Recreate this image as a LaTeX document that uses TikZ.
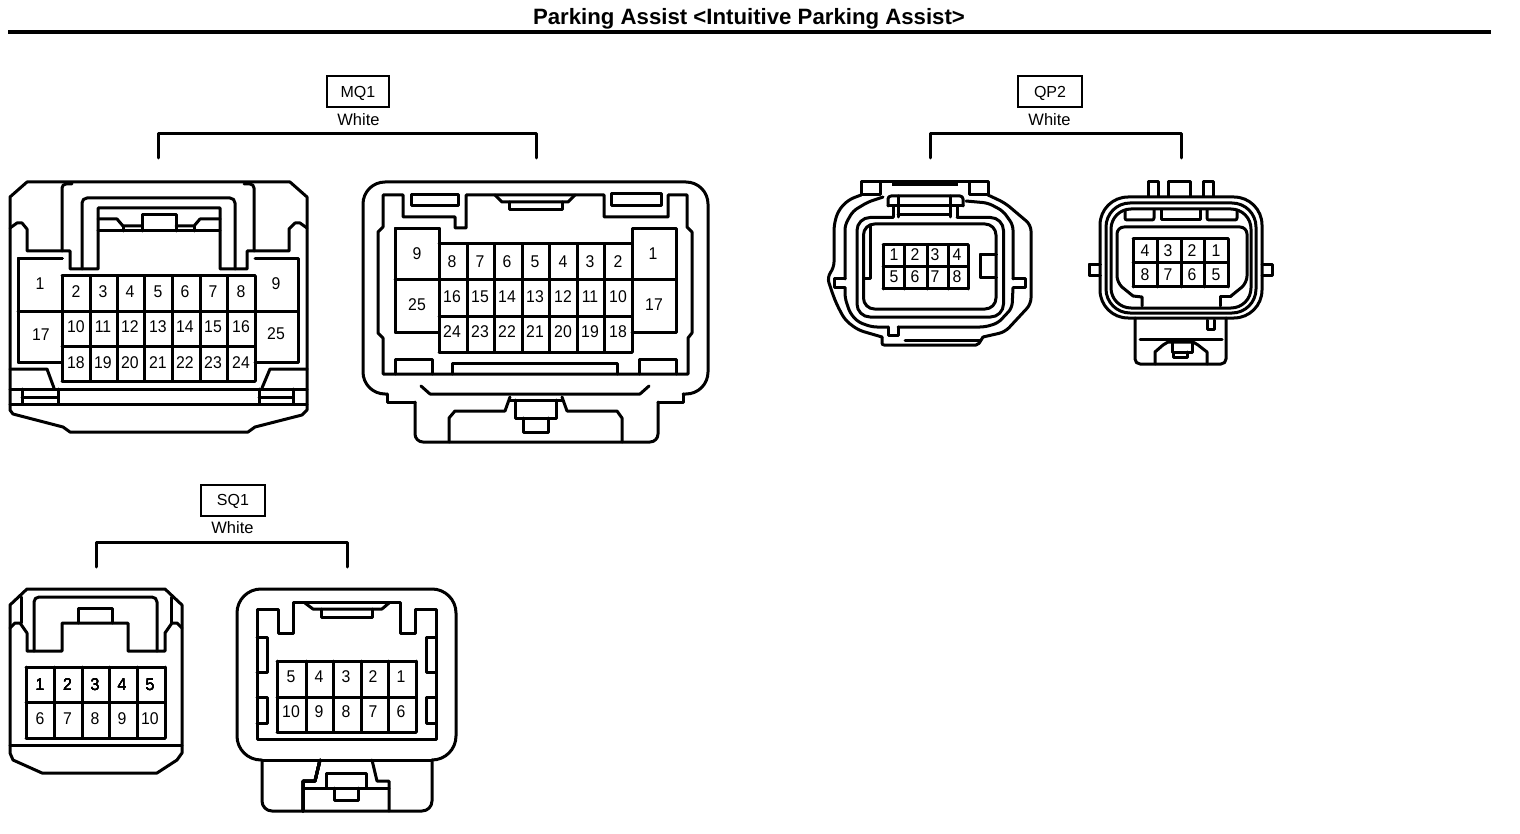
\documentclass[tikz,border=0pt]{standalone}
\usepackage{fontspec}
\setmainfont{Liberation Sans}
\newfontfamily\pinf[FakeStretch=0.93]{Liberation Sans}
\tikzset{
  ln/.style={line width=3pt,line join=round,line cap=round},
  pin/.style={inner sep=0pt,font=\pinf\fontsize{17}{18}\selectfont,anchor=center},
  tagbox/.style={draw,line width=2pt,inner sep=0pt,text height=11pt,text depth=0pt,font=\fontsize{16}{17}\selectfont},
  col/.style={inner sep=0pt,font=\fontsize{16.5}{17}\selectfont},
}
\newcommand{\hl}[3]{\draw[ln] (#2,#1)--(#3,#1);}
\newcommand{\vl}[3]{\draw[ln] (#1,#2)--(#1,#3);}
\begin{document}
\begin{tikzpicture}[x=1pt,y=-1pt]
\useasboundingbox (0,0) rectangle (1520,834);
% title
\node[inner sep=0pt,font=\bfseries\fontsize{22.2}{24}\selectfont] (title) at (749,18.5) {Parking Assist <Intuitive Parking Assist>};
\draw[line width=3.5pt] (8,32)--(1491,32);
% tags
\node[tagbox,minimum width=62pt,minimum height=31pt] (mq) at (358,92) {MQ1};
\node[col] (mqw) at (358.5,119.5) {White};
\draw[ln] (158,158)--(158,134)--(536,134)--(536,158);
\node[tagbox,minimum width=64pt,minimum height=31pt] (qp) at (1050,92) {QP2};
\node[col] (qpw) at (1049.5,119.5) {White};
\draw[ln] (930,158)--(930,134)--(1181,134)--(1181,158);
\node[tagbox,minimum width=64pt,minimum height=31pt] (sq) at (233,500) {SQ1};
\node[col] (sqw) at (232.5,527.5) {White};
\draw[ln] (96,567)--(96,542)--(347,542)--(347,567);

% ===== MQ1 left
\draw[ln] (10,197)--(27,182)--(290,182)--(307,197)--(307,410)--(302,415)--(255,427)--(248,432)--(70,432)--(63,427)--(13,414)--(10,410)--cycle;
\draw[ln] (10,228)--(17,223)--(22,223)--(27,229)--(27,251)--(70,251)--(70,269)--(98,269)--(98,208)--(220,208)--(220,269)--(247,269)--(247,251)--(289,251)--(289,229)--(295,223)--(300,223)--(307,228);
\draw[ln,rounded corners=4pt] (62,251)--(62,184)--(72,184);
\draw[ln,rounded corners=4pt] (254,251)--(254,184)--(244,184);
\draw[ln,rounded corners=5pt] (82,269)--(82,198)--(235,198)--(235,269);
\draw[ln] (98,219)--(117,219)--(123,226)--(142,226);
\draw[ln] (98,231)--(220,231);
\draw[ln] (123,226)--(123,231) (194,226)--(194,231);
\draw[ln] (142,231)--(142,215)--(176,215)--(176,231);
\draw[ln] (176,226)--(194,226)--(200,219)--(220,219);
\draw[ln] (62,276)--(255,276) (18,311)--(298,311) (62,346)--(255,346) (62,381)--(255,381);
\foreach \x in {62,90,117,144,172,200,227,255} \vl{\x}{276}{381}
\draw[ln] (62,259)--(18,259)--(18,362)--(62,362);
\draw[ln] (255,259)--(298,259)--(298,362)--(255,362);
\draw[ln] (10,369)--(47,369)--(54,388);
\draw[ln] (307,369)--(270,369)--(262,388);
\hl{389}{10}{307} \hl{404}{10}{307}
\vl{22}{389}{404} \vl{58}{389}{404} \vl{259}{389}{404} \vl{293}{389}{404}
\hl{397}{22}{58} \hl{397}{259}{293}
\foreach \x/\t in {76/2,103/3,130/4,158/5,185/6,213/7,241/8} \node[pin] (a\t) at (\x,292) {\t};
\foreach \x/\t in {76/10,103/11,130/12,158/13,185/14,213/15,241/16} \node[pin] (a\t) at (\x,327) {\t};
\foreach \x/\t in {76/18,103/19,130/20,158/21,185/22,213/23,241/24} \node[pin] (a\t) at (\x,363) {\t};
\node[pin] (a1) at (40,284) {1}; \node[pin] (a17) at (41,335) {17};
\node[pin] (a9) at (276,284) {9}; \node[pin] (a25) at (276,334) {25};

% ===== MQ1 right
\draw[ln,rounded corners=22pt] (387,394)--(363,394)--(363,182)--(708,182)--(708,394)--(683,394);
\draw[ln] (387,394)--(387,402)--(415,402);
\draw[ln] (683,394)--(683,402)--(658,402);
\draw[ln,rounded corners=8pt] (415,402)--(415,442)--(658,442)--(658,402);
\draw[ln] (466,195)--(466,228)--(455,228)--(455,217)--(403,217)--(403,195)--(383,195)--(383,227)--(378,232)--(378,333)--(383,338)--(383,374)--(688,374)--(688,338)--(692,333)--(692,232)--(687,227)--(687,195)--(668,195)--(668,217)--(604,217)--(604,195)--(466,195);
\draw[ln] (411,195) rectangle (458,206);
\draw[ln] (611,194) rectangle (661,206);
\draw[ln] (495,195)--(502,202)--(568,202)--(575,195);
\draw[ln] (509,202)--(509,210)--(562,210)--(562,202);
\hl{244}{439}{632} \hl{280}{395}{676} \hl{316}{439}{632} \hl{352}{439}{632}
\foreach \x in {439,467,494,522,549,577,604,632} \vl{\x}{244}{352}
\draw[ln] (439,244)--(439,229)--(395,229)--(395,332)--(439,332);
\draw[ln] (632,244)--(632,229)--(676,229)--(676,332)--(632,332);
\draw[ln] (395,374)--(395,359)--(432,359)--(432,374);
\draw[ln] (452,374)--(452,363)--(617,363)--(617,374);
\draw[ln] (639,374)--(639,359)--(676,359)--(676,374);
\draw[ln] (421,386)--(430,394)--(640,394)--(649,386);
\draw[ln] (510,397)--(505,411)--(455,411)--(449,418)--(449,442);
\draw[ln] (562,397)--(567,411)--(617,411)--(622,418)--(622,442);
\draw[ln] (510,400)--(562,400);
\draw[ln] (515,400)--(515,418)--(556,418)--(556,400);
\draw[ln] (523,418)--(523,432)--(548,432)--(548,418);
\foreach \x/\t in {452/8,480/7,507/6,535/5,563/4,590/3,618/2} \node[pin] (b\t) at (\x,262) {\t};
\foreach \x/\t in {452/16,480/15,507/14,535/13,563/12,590/11,618/10} \node[pin] (b\t) at (\x,297) {\t};
\foreach \x/\t in {452/24,480/23,507/22,535/21,563/20,590/19,618/18} \node[pin] (b\t) at (\x,332) {\t};
\node[pin] (b9) at (417,254) {9}; \node[pin] (b25) at (417,305) {25};
\node[pin] (b1) at (653,254) {1}; \node[pin] (b17) at (654,305) {17};

% ===== QP2 left
\draw[ln] (861,195)--(861,182)--(988,182)--(988,195);
\draw[line width=4.5pt] (892,184)--(958,184);
\draw[ln] (880,183)--(880,195)--(861,195) (969,183)--(969,195)--(988,195);
% outer wall
\draw[ln,rounded corners=6pt] (861,195)--(848,200)--(838,211)--(834,225)--(834,268)--(827,277)--(833,295)--(837,305)--(845,320)--(858,330)--(882,337);
\draw[ln,rounded corners=2pt] (882,337)--(882,345)--(978,345)--(983,337);
\draw[ln,rounded corners=6pt] (983,337)--(1005,332)--(1031,304)--(1031,225)--(1005,203)--(988,195);
% second wall with side lugs
\draw[ln,rounded corners=5pt] (883,197)--(868,202)--(853,211)--(845,225)--(845,279);
\draw[ln] (845,279)--(834,279)--(834,288)--(845,288);
\draw[ln,rounded corners=5pt] (845,288)--(845,298)--(850,313)--(858,322)--(872,327)--(888,327);
\draw[ln] (888,327)--(888,335)--(898,335)--(898,327);
\draw[ln,rounded corners=5pt] (898,327)--(985,327)--(998,323)--(1012,308)--(1013,288);
\draw[ln] (1013,288)--(1025,288)--(1025,279)--(1013,279);
\draw[ln,rounded corners=5pt] (1013,279)--(1013,225)--(1003,211)--(988,203)--(966,201);
\draw[ln] (905,340)--(980,340);
% inner rings
\draw[ln,rounded corners=13pt] (893,217.5)--(857,217.5)--(857,317)--(1003.5,317)--(1003.5,217.5)--(957,217.5);
\draw[ln,rounded corners=11pt] (863.5,224)--(863.5,309)--(996,309)--(996,224)--cycle;
\draw[ln] (870,226)--(870,279)--(864,279);
% top latch
\draw[ln,rounded corners=3pt] (888,206)--(888,196)--(963,196)--(963,206);
\hl{206}{888}{963} \hl{215}{898}{950}
\draw[ln] (893,206)--(893,217) (898,196)--(898,217) (950,196)--(950,217) (957,206)--(957,217);
\hl{245}{883}{968} \hl{267}{883}{968} \hl{289}{883}{968}
\foreach \x in {883,904,927,948,968} \vl{\x}{245}{289}
\draw[ln] (996,255)--(980,255)--(980,278)--(996,278);
\foreach \x/\t in {894/1,915/2,935/3,957/4} \node[pin] (c\t) at (\x,255) {\t};
\foreach \x/\t in {894/5,915/6,935/7,957/8} \node[pin] (c\t) at (\x,277) {\t};

% ===== QP2 right
\draw[ln] (1148,196)--(1148,182)--(1158,182)--(1158,196);
\draw[ln] (1168,196)--(1168,182)--(1190,182)--(1190,196);
\draw[ln] (1203,196)--(1203,182)--(1213,182)--(1213,196);
\draw[ln,rounded corners=28pt] (1100,197)--(1262,197)--(1262,318)--(1100,318)--cycle;
\draw[ln,rounded corners=24pt] (1106,203)--(1256,203)--(1256,313)--(1106,313)--cycle;
\draw[ln,rounded corners=20pt] (1111,209)--(1251,209)--(1251,308)--(1111,308)--cycle;
\draw[ln,rounded corners=2pt] (1125,210)--(1125,220)--(1154,220)--(1154,210);
\draw[ln] (1161,210)--(1161,220)--(1200,220)--(1200,210);
\draw[ln,rounded corners=2pt] (1207,210)--(1207,220)--(1237,220)--(1237,210);
\draw[ln] (1133,296)--(1142,297)--(1142,306);
\draw[ln] (1231,296)--(1220,296)--(1220,306);
\draw[ln,rounded corners=7pt] (1133,296)--(1117,283)--(1117,227)--(1247,227)--(1247,283)--(1231,296);
\hl{239}{1133}{1228} \hl{263}{1133}{1228} \hl{287}{1133}{1228}
\foreach \x in {1133,1157,1181,1204,1228} \vl{\x}{239}{287}
\draw[ln] (1100,265)--(1089,265)--(1089,276)--(1100,276);
\draw[ln] (1262,265)--(1272,265)--(1272,276)--(1262,276);
\draw[ln,rounded corners=5pt] (1135,318)--(1135,364)--(1226,364)--(1226,318);
\draw[ln] (1207,320)--(1207,329)--(1214,329)--(1214,320);
\hl{339}{1140}{1222}
\draw[ln] (1155,364)--(1155,352)--(1163,345)--(1168,342)--(1193,342)--(1198,345)--(1207,352)--(1207,364);
\draw[ln] (1172,342)--(1172,352)--(1192,352)--(1192,342);
\draw[ln] (1173,352)--(1173,357)--(1187,357)--(1187,352);
\foreach \x/\t in {1145/4,1168/3,1192/2,1216/1} \node[pin] (d\t) at (\x,251) {\t};
\foreach \x/\t in {1145/8,1168/7,1192/6,1216/5} \node[pin] (d\t) at (\x,275) {\t};

% ===== SQ1 left
\draw[ln] (10,605)--(27,589)--(165,589)--(182,605)--(182,753)--(177,760)--(157,773)--(42,773)--(13,760)--(10,753)--cycle;
\draw[ln] (10,628)--(15,623)--(20,623)--(27,633)--(27,651)--(62,651)--(62,623)--(128,623)--(128,651)--(165,651)--(165,633)--(172,623)--(177,623)--(182,628);
\draw[ln] (21,597)--(21,623) (171,597)--(171,623);
\draw[ln] (78,623)--(78,608)--(112,608)--(112,623);
\draw[ln,rounded corners=5pt] (34,651)--(34,597)--(157,597)--(157,651);
\hl{745}{10}{182}
\hl{667}{26}{165} \hl{702}{26}{165} \hl{738}{26}{165}
\foreach \x in {26,54,82,109,137,165} \vl{\x}{667}{738}
\foreach \x/\t in {40/1,67.5/2,95/3,122/4,150/5} \node[pin] (e\t) at (\x,685) {\t};
\foreach \x/\t in {40/6,67.5/7,95/8,122/9,150/10} \node[pin] (e\t) at (\x,719) {\t};

% ===== SQ1 right
\draw[ln,rounded corners=24pt] (262,760)--(237,760)--(237,589)--(456,589)--(456,760)--(432,760);
\draw[ln] (262,760)--(432,760);
\draw[ln,rounded corners=10pt] (262,760)--(262,811)--(432,811)--(432,760);
\draw[ln] (257,609)--(278,609)--(278,633)--(293,633)--(293,602)--(400,602)--(400,633)--(415,633)--(415,609)--(436,609)--(436,739)--(257,739)--cycle;
\draw[ln] (305,603)--(313,609)--(382,609)--(389,603);
\draw[ln] (321,609)--(321,617)--(372,617)--(372,609);
\draw[ln] (257,637)--(267,637)--(267,672)--(257,672);
\draw[ln] (257,697)--(267,697)--(267,723)--(257,723);
\draw[ln] (436,637)--(426,637)--(426,672)--(436,672);
\draw[ln] (436,697)--(426,697)--(426,723)--(436,723);
\hl{661}{277}{416} \hl{697}{277}{416} \hl{732}{277}{416}
\foreach \x in {277,306,333,361,388,416} \vl{\x}{661}{732}
\draw[ln] (320,760)--(315,781)--(303,781)--(303,811);
\draw[ln] (372,760)--(377,781)--(389,781)--(389,811);
\hl{788}{303}{389}
\draw[ln] (326,788)--(326,773)--(366,773)--(366,788);
\draw[ln] (334,788)--(334,800)--(358,800)--(358,788);
\foreach \x/\t in {291/5,319/4,346/3,373/2,401/1} \node[pin] (f\t) at (\x,677) {\t};
\foreach \x/\t in {291/10,319/9,346/8,373/7,401/6} \node[pin] (f\t) at (\x,712) {\t};
\end{tikzpicture}
\end{document}
